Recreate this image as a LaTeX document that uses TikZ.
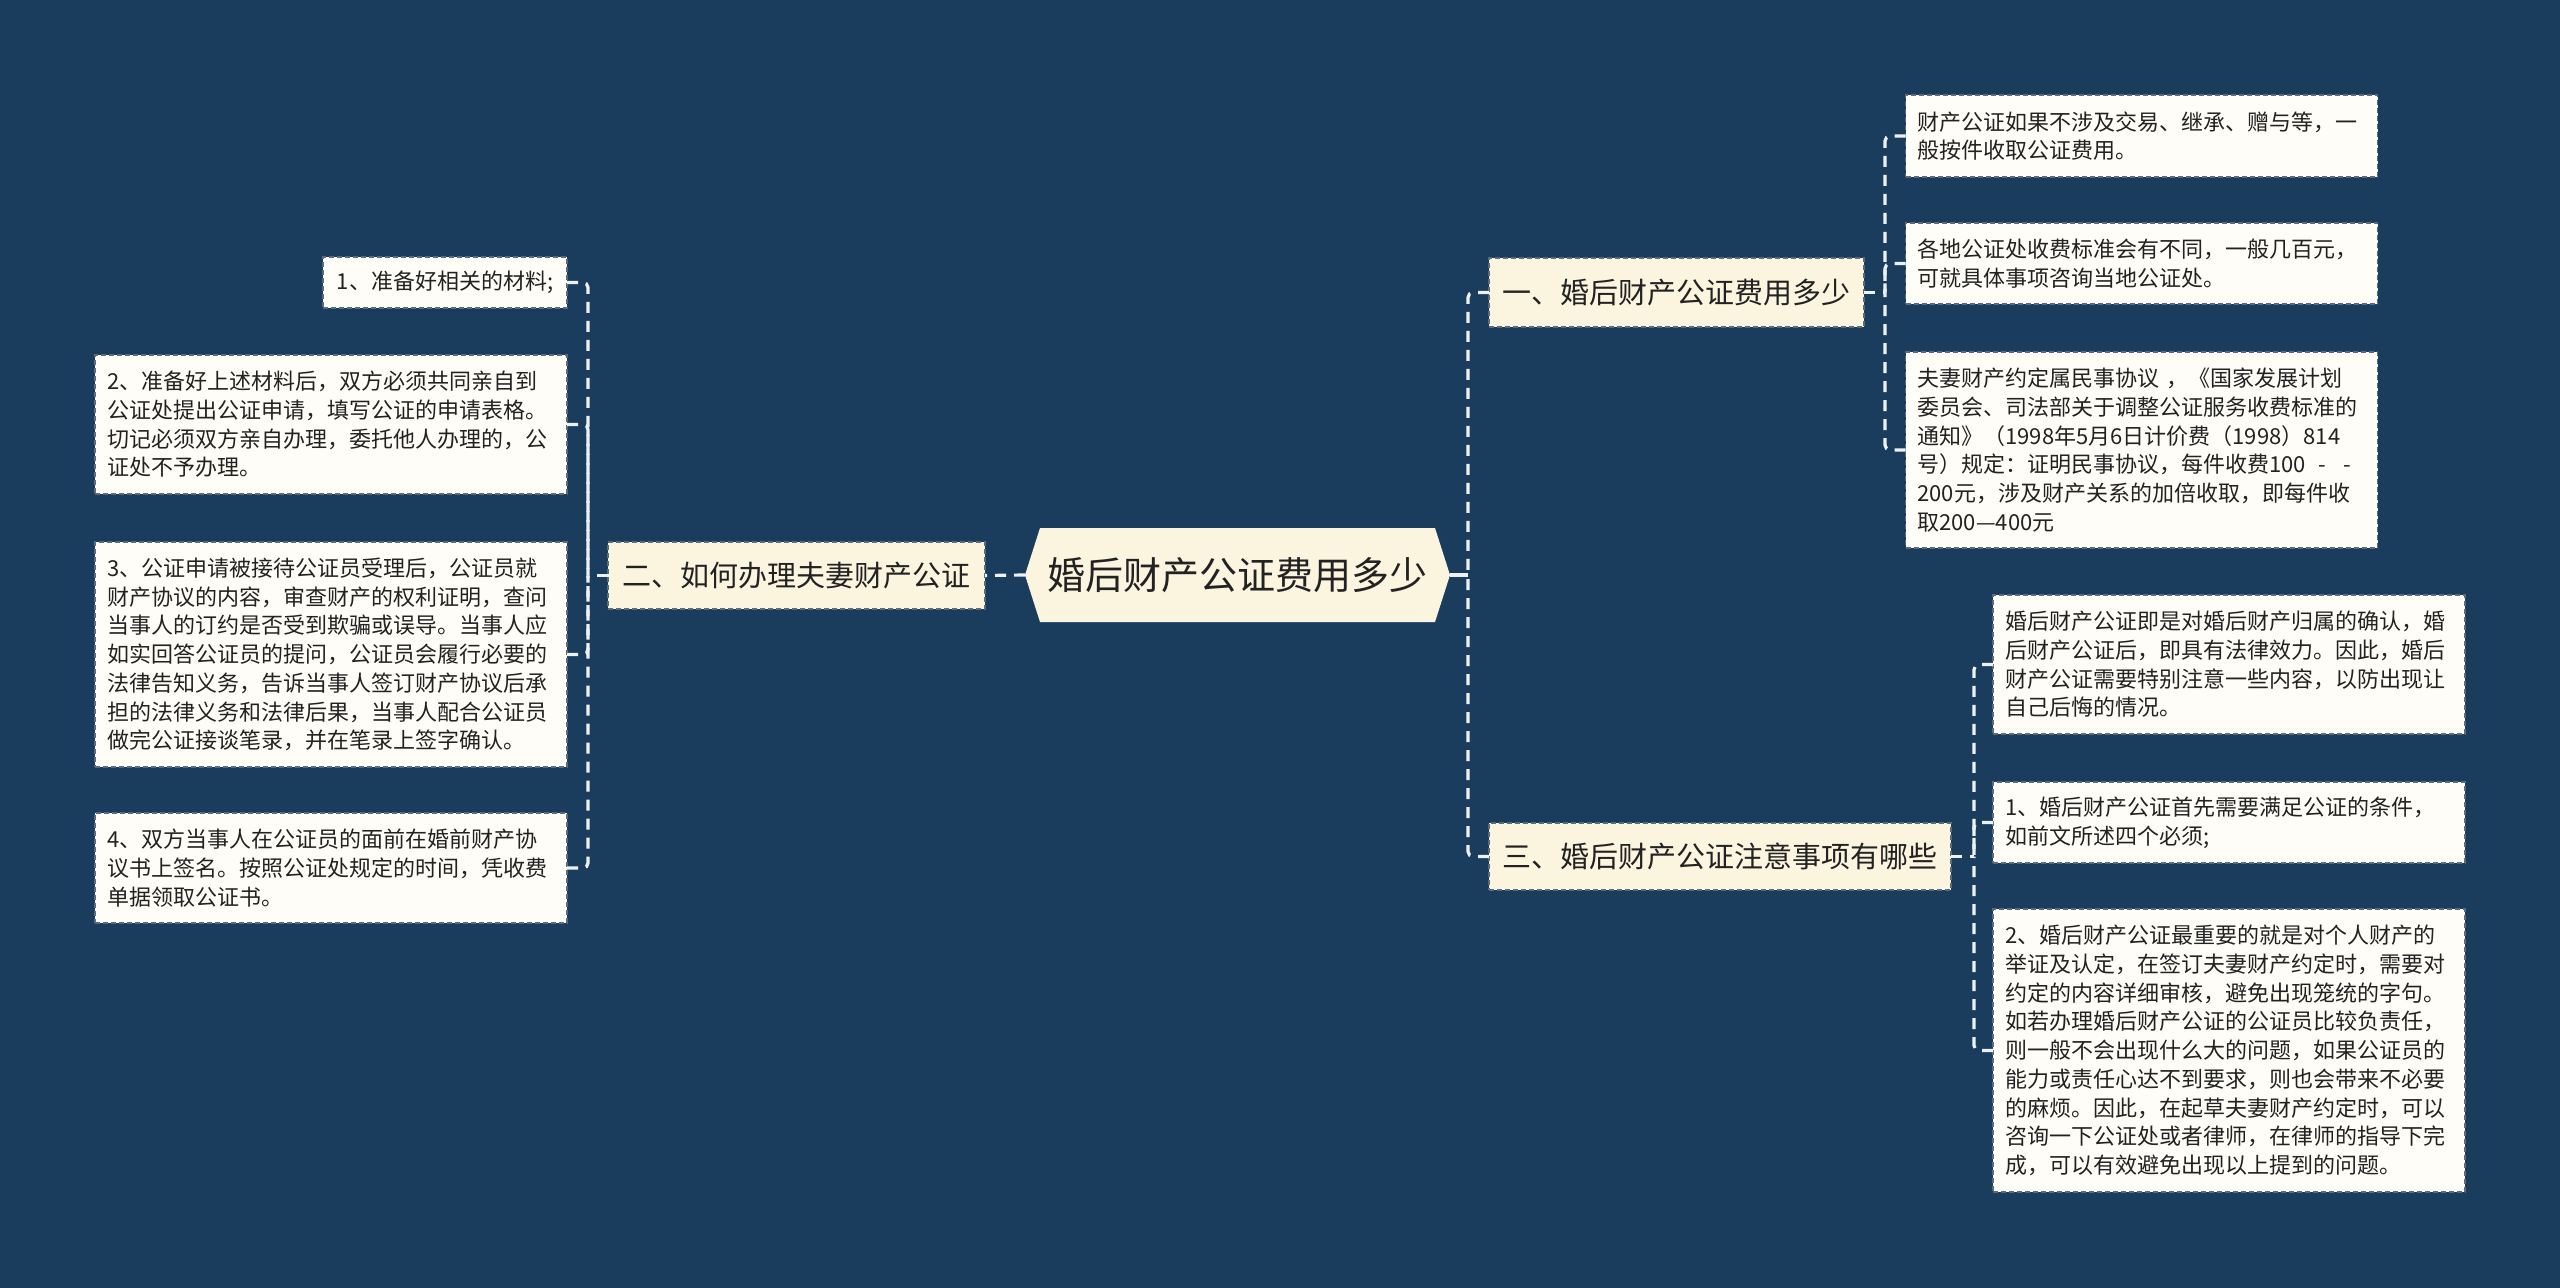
\documentclass[tikz,border=0pt]{standalone}
\usepackage{fontspec}
\newfontfamily\cjk{Noto Sans CJK SC}
\usetikzlibrary{backgrounds}
\definecolor{bg}{HTML}{1A3D5E}
\definecolor{cream}{HTML}{FBF4DF}
\definecolor{paper}{HTML}{FEFDF7}
\definecolor{edge}{HTML}{5B6B7B}
\definecolor{ink}{HTML}{222222}
\definecolor{wire}{HTML}{EEF1F4}
\begin{document}
\begin{tikzpicture}[x=1pt,y=-1pt,
  box/.style={draw=edge, line width=1.6pt, dash pattern=on 5pt off 3pt, text=ink, inner sep=0pt, outer sep=0pt},
  leaf/.style={box, fill=paper, font=\cjk\fontsize{22}{28.7}\selectfont, align=left, text width=448pt, minimum width=472pt},
  branch/.style={box, fill=cream, font=\cjk\fontsize{29}{34}\selectfont},
  rootstyle/.style={text=ink, inner sep=0pt, outer sep=0pt, font=\cjk\fontsize{38}{44}\selectfont, minimum width=425pt, minimum height=94pt},
  wirestyle/.style={draw=wire, line width=3.2pt, dash pattern=on 11pt off 8pt, rounded corners=5pt},
  solidwire/.style={draw=wire, line width=3.2pt}]
\useasboundingbox (0,0) rectangle (2560,1288);

% root
\node[rootstyle] (root) at (1237.5,575) {婚后财产公证费用多少};
\begin{scope}[on background layer]
\fill[bg] (0,0) rectangle (2560,1288);
\fill[cream] (root.west) -- ([xshift=15pt]root.north west) -- ([xshift=-15pt]root.north east)
  -- (root.east) -- ([xshift=-15pt]root.south east) -- ([xshift=15pt]root.south west) -- cycle;
\end{scope}

% branches
\node[branch, minimum width=375pt, minimum height=69pt] (b1) at (1676.5,292.5) {一、婚后财产公证费用多少};
\node[branch, minimum width=377pt, minimum height=67pt] (b2) at (796.5,575.5) {二、如何办理夫妻财产公证};
\node[branch, minimum width=462pt, minimum height=67pt] (b3) at (1720,856.5) {三、婚后财产公证注意事项有哪些};

% left leaves
\node[box, fill=paper, font=\cjk\fontsize{22}{28.7}\selectfont, minimum width=244pt, minimum height=51pt] (l1) at (445,282.5) {1、准备好相关的材料;};
\node[leaf, minimum height=139pt] (l2) at (331,424.5) {2、准备好上述材料后，双方必须共同亲自到\\公证处提出公证申请，填写公证的申请表格。\\切记必须双方亲自办理，委托他人办理的，公\\证处不予办理。};
\node[leaf, minimum height=225pt] (l3) at (331,654.5) {3、公证申请被接待公证员受理后，公证员就\\财产协议的内容，审查财产的权利证明，查问\\当事人的订约是否受到欺骗或误导。当事人应\\如实回答公证员的提问，公证员会履行必要的\\法律告知义务，告诉当事人签订财产协议后承\\担的法律义务和法律后果，当事人配合公证员\\做完公证接谈笔录，并在笔录上签字确认。};
\node[leaf, minimum height=110pt] (l4) at (331,868) {4、双方当事人在公证员的面前在婚前财产协\\议书上签名。按照公证处规定的时间，凭收费\\单据领取公证书。};

% right leaves of b1
\node[leaf, minimum height=82pt] (r1) at (2141.5,136) {财产公证如果不涉及交易、继承、赠与等，一\\般按件收取公证费用。};
\node[leaf, minimum height=81pt] (r2) at (2141.5,263.5) {各地公证处收费标准会有不同，一般几百元，\\可就具体事项咨询当地公证处。};
\node[leaf, minimum height=196pt] (r3) at (2141.5,450) {夫妻财产约定属民事协议 ，《国家发展计划\\委员会、司法部关于调整公证服务收费标准的\\通知》（1998年5月6日计价费（1998）814\\号）规定：证明民事协议，每件收费100\hspace{12pt}-\hspace{18pt}-\\200元，涉及财产关系的加倍收取，即每件收\\取200—400元};

% right leaves of b3
\node[leaf, minimum height=139pt] (s1) at (2229,664.5) {婚后财产公证即是对婚后财产归属的确认，婚\\后财产公证后，即具有法律效力。因此，婚后\\财产公证需要特别注意一些内容，以防出现让\\自己后悔的情况。};
\node[leaf, minimum height=81pt] (s2) at (2229,822.5) {1、婚后财产公证首先需要满足公证的条件，\\如前文所述四个必须;};
\node[leaf, minimum height=283pt] (s3) at (2229,1050.5) {2、婚后财产公证最重要的就是对个人财产的\\举证及认定，在签订夫妻财产约定时，需要对\\约定的内容详细审核，避免出现笼统的字句。\\如若办理婚后财产公证的公证员比较负责任，\\则一般不会出现什么大的问题，如果公证员的\\能力或责任心达不到要求，则也会带来不必要\\的麻烦。因此，在起草夫妻财产约定时，可以\\咨询一下公证处或者律师，在律师的指导下完\\成，可以有效避免出现以上提到的问题。};

% junctions
\coordinate (rj) at (1468,575);
\coordinate (lj) at (588,575.5);
\coordinate (j1) at (1885,292.5);
\coordinate (j3) at (1974,856.5);

% connectors
\draw[solidwire] (root.east) -- (rj);
\draw[wirestyle] (b1.west) -| (rj);
\draw[wirestyle] (b3.west) -| (rj);
\draw[wirestyle] (root.west) -- (b2.east);
\draw[wirestyle] (b2.west) -- (lj);
\draw[wirestyle] (l1.east) -| (lj);
\draw[wirestyle] (l2.east) -| (lj);
\draw[wirestyle] (l3.east) -| (lj);
\draw[wirestyle] (l4.east) -| (lj);
\draw[wirestyle] (b1.east) -- (j1);
\draw[wirestyle] (r1.west) -| (j1);
\draw[wirestyle] (r2.west) -| (j1);
\draw[wirestyle] (r3.west) -| (j1);
\draw[wirestyle] (b3.east) -- (j3);
\draw[wirestyle] (s1.west) -| (j3);
\draw[wirestyle] (s2.west) -| (j3);
\draw[wirestyle] (s3.west) -| (j3);
\end{tikzpicture}
\end{document}
